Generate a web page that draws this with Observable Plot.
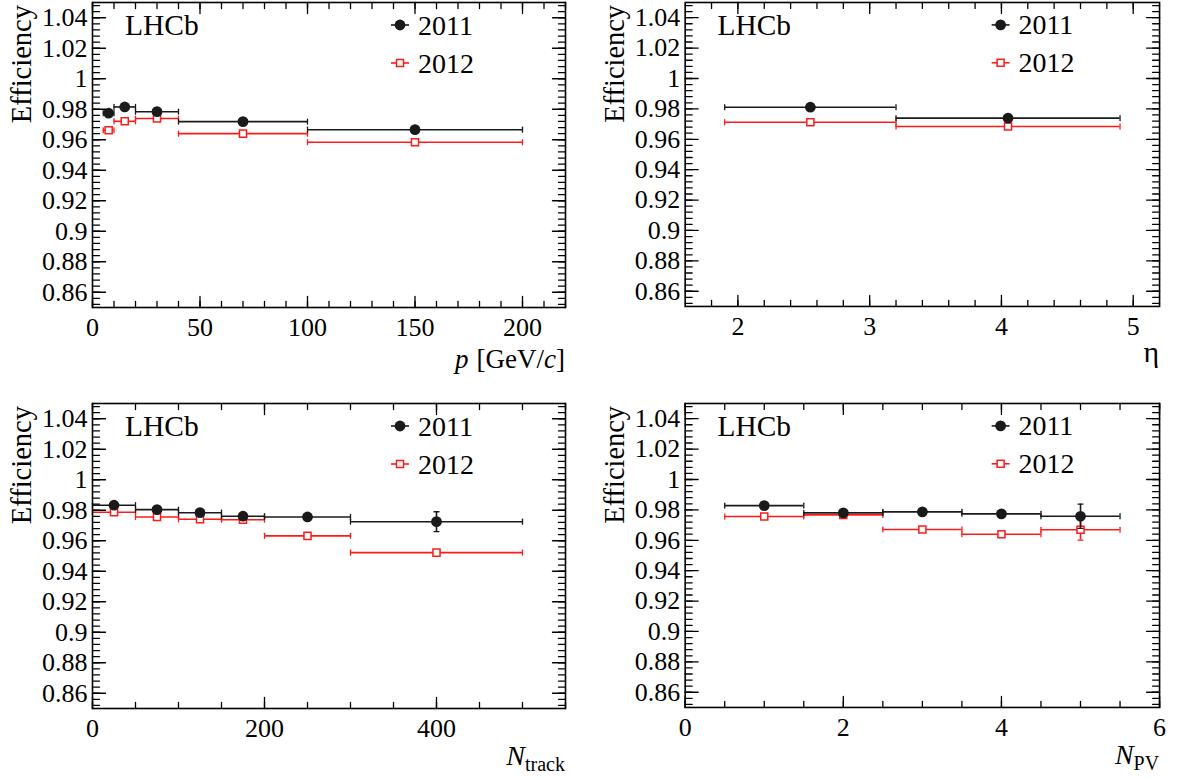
<!DOCTYPE html>
<html><head><meta charset="utf-8">
<script src="https://cdn.jsdelivr.net/npm/d3@7"></script>
<script src="https://cdn.jsdelivr.net/npm/@observablehq/plot@0.6"></script>
<style>
body{margin:0;background:#fff;width:1181px;height:778px;overflow:hidden;position:relative;font-family:"Liberation Serif",serif;}
.panel{position:absolute;}
.panel svg, .panel svg text{font-family:"Liberation Serif",serif !important;}
</style></head><body>
<script>
// ---------- data ----------
const yTicks = [0.86,0.88,0.9,0.92,0.94,0.96,0.98,1,1.02,1.04];
const seriesNames = ["2011","2012"];

const pEdges = [5,10,20,40,100,200];
const pCenters = [7.5,15,30,70,150];
const p2011 = [0.9774,0.9815,0.9784,0.9719,0.9666];
const p2012 = [0.9662,0.9721,0.9739,0.9640,0.9584];
const p2011Err = [0.0025,0.0012,0.0010,0.0008,0.0010];
const p2012Err = [0.0015,0.0010,0.0008,0.0008,0.0010];
const pTicks = [0,50,100,150,200];

const etaEdges = [1.9,3.2,4.9];
const etaCenters = [2.55,4.05];
const eta2011 = [0.9811,0.9739];
const eta2012 = [0.9712,0.9684];
const eta2011Err = [0.0008,0.0008];
const eta2012Err = [0.0008,0.0008];
const etaTicks = [2,3,4,5];

const trackEdges = [0,50,100,150,200,300,500];
const trackCenters = [25,75,125,175,250,400];
const track2011 = [0.9833,0.9804,0.9784,0.9761,0.9756,0.9725];
const track2012 = [0.9787,0.9756,0.9741,0.9738,0.9632,0.9522];
const track2011Err = [0.0010,0.0010,0.0010,0.0010,0.0010,0.0065];
const track2012Err = [0.0008,0.0008,0.0008,0.0008,0.0010,0.0015];
const trackTicks = [0,200,400];

const pvEdges = [0.5,1.5,2.5,3.5,4.5,5.5];
const pvCenters = [1,2,3,4,5];
const pv2011 = [0.9828,0.9780,0.9787,0.9774,0.9758];
const pv2012 = [0.9756,0.9767,0.9671,0.9640,0.9669];
const pv2011Err = [0.0010,0.0010,0.0010,0.0012,0.0080];
const pv2012Err = [0.0010,0.0010,0.0010,0.0012,0.0068];
const pvTicks = [0,2,4,6];

// ---------- helpers ----------
const FONT = "Liberation Serif";
const BLACK = "#1a1a1a", RED = "#ff1a1a";
function rows(edges, centers, vals, errs) {
  return centers.map((c, i) => ({lo: edges[i], hi: edges[i + 1], c, v: vals[i], e: errs[i]}));
}
const lineShape = {draw(ctx, l) { ctx.moveTo(0, 0); ctx.lineTo(0, -l); }};
const yMinor = d3.range(-2, 48).map(i => +(0.86 + i * 0.004).toFixed(4));

function tickMarks(values, axis, len) {
  const o = {stroke: "black", strokeWidth: 1.3, length: len, anchor: "start", shape: lineShape};
  if (axis === "y") return [
    Plot.vector(values, {...o, y: d => d, frameAnchor: "left", rotate: 90}),
    Plot.vector(values, {...o, y: d => d, frameAnchor: "right", rotate: -90})
  ];
  return [
    Plot.vector(values, {...o, x: d => d, frameAnchor: "bottom", rotate: 0}),
    Plot.vector(values, {...o, x: d => d, frameAnchor: "top", rotate: 180})
  ];
}
function seriesMarks(data, color, open) {
  const cap = {stroke: color, strokeWidth: 1.3, length: 5, anchor: "middle", shape: lineShape};
  return [
    Plot.ruleY(data, {y: "v", x1: "lo", x2: "hi", stroke: color, strokeWidth: 1.6}),
    Plot.vector(data, {...cap, x: "lo", y: "v"}),
    Plot.vector(data, {...cap, x: "hi", y: "v"}),
    Plot.ruleX(data, {x: "c", y1: d => d.v - d.e, y2: d => d.v + d.e, stroke: color, strokeWidth: 1.6}),
    Plot.vector(data.filter(d => d.e > 0.003), {...cap, x: "c", y: d => d.v + d.e, rotate: 90}),
    Plot.vector(data.filter(d => d.e > 0.003), {...cap, x: "c", y: d => d.v - d.e, rotate: 90}),
    open
      ? Plot.dot(data, {x: "c", y: "v", symbol: "square", r: 4, stroke: color, strokeWidth: 1.5, fill: "white"})
      : Plot.dot(data, {x: "c", y: "v", r: 5.4, fill: color})
  ];
}

function panel(cfg) {
  const W = 590;
  const svg = Plot.plot({
    width: W, height: cfg.height,
    marginLeft: 92, marginRight: cfg.marginRight, marginTop: 2, marginBottom: cfg.height - 307,
    style: {fontFamily: FONT, fontSize: "26px", color: "black", background: "white", overflow: "visible"},
    x: {domain: cfg.xDomain, label: null},
    y: {domain: [0.85, 1.05], label: null},
    marks: [
      ...seriesMarks(cfg.d2012, RED, true),
      ...seriesMarks(cfg.d2011, BLACK, false),
      ...tickMarks(yTicks, "y", 13),
      ...tickMarks(yMinor, "y", 7),
      ...tickMarks(cfg.xTicks, "x", 11),
      ...tickMarks(cfg.xMinor, "x", 6),
      Plot.axisY({ticks: yTicks, tickSize: 0, tickPadding: 5, tickFormat: d => String(+d.toFixed(2)), fill: "black", fontSize: 26, fontFamily: FONT}),
      Plot.axisX({ticks: cfg.xTicks, tickSize: 0, tickPadding: 10, tickFormat: d => String(d), fill: "black", fontSize: 26, fontFamily: FONT}),
      Plot.frame({stroke: "black", strokeWidth: 1.6})
    ]
  });
  const s = d3.select(svg);
  const fl = 92;
  // LHCb label
  s.append("text").attr("x", fl + 33).attr("y", 35).attr("text-anchor", "start").attr("font-size", 29.5).text("LHCb");
  // y title
  s.append("text").attr("transform", "translate(31,5) rotate(-90)").attr("text-anchor", "end")
    .attr("font-size", 28.5).text("Efficiency");
  // legend
  const lx = fl + cfg.legX;
  const lg = s.append("g");
  [[seriesNames[0], 25, BLACK, false], [seriesNames[1], 63, RED, true]].forEach(([name, y, col, open]) => {
    lg.append("line").attr("x1", lx - 9).attr("x2", lx + 9).attr("y1", y).attr("y2", y)
      .attr("stroke", col).attr("stroke-width", 1.6);
    if (open) lg.append("rect").attr("x", lx - 3.5).attr("y", y - 3.5).attr("width", 7).attr("height", 7)
      .attr("fill", "white").attr("stroke", col).attr("stroke-width", 1.5);
    else lg.append("circle").attr("cx", lx).attr("cy", y).attr("r", 5.4).attr("fill", col);
    lg.append("text").attr("x", lx + 18).attr("y", y + 9.5).attr("text-anchor", "start").attr("font-size", 28).text(name);
  });
  // x title
  cfg.xTitle(s, W - cfg.marginRight);
  s.selectAll("text").attr("font-family", FONT).style("font-family", FONT);
  const div = document.createElement("div");
  div.className = "panel";
  div.style.left = cfg.left + "px";
  div.style.top = cfg.top + "px";
  div.appendChild(svg);
  document.body.appendChild(div);
}

panel({
  left: 0, top: 0, height: 400, marginRight: 25, xDomain: [0, 220], xTicks: pTicks,
  xMinor: d3.range(0, 221, 10), legX: 308,
  d2011: rows(pEdges, pCenters, p2011, p2011Err), d2012: rows(pEdges, pCenters, p2012, p2012Err),
  xTitle: (s, xr) => {
    const t = s.append("text").attr("x", xr).attr("y", 368).attr("text-anchor", "end").attr("font-size", 27);
    t.append("tspan").attr("font-style", "italic").text("p");
    t.append("tspan").attr("dx", 8).text("[GeV/");
    t.append("tspan").attr("font-style", "italic").text("c");
    t.append("tspan").text("]");
  }
});
panel({
  left: 593, top: 0, height: 400, marginRight: 22, xDomain: [1.6, 5.2], xTicks: etaTicks,
  xMinor: d3.range(1, 18).map(i => +(1.6 + i * 0.2).toFixed(2)), legX: 317,
  d2011: rows(etaEdges, etaCenters, eta2011, eta2011Err), d2012: rows(etaEdges, etaCenters, eta2012, eta2012Err),
  xTitle: (s, xr) => {
    s.append("text").attr("x", xr).attr("y", 363).attr("text-anchor", "end").attr("font-size", 30).text("η");
  }
});
panel({
  left: 0, top: 401, height: 377, marginRight: 25, xDomain: [0, 550], xTicks: trackTicks,
  xMinor: d3.range(0, 551, 50), legX: 308,
  d2011: rows(trackEdges, trackCenters, track2011, track2011Err), d2012: rows(trackEdges, trackCenters, track2012, track2012Err),
  xTitle: (s, xr) => {
    const t = s.append("text").attr("x", xr).attr("y", 364).attr("text-anchor", "end").attr("font-size", 28);
    t.append("tspan").attr("font-style", "italic").text("N");
    t.append("tspan").attr("font-size", 20).attr("dy", 6).text("track");
  }
});
panel({
  left: 593, top: 401, height: 377, marginRight: 22, xDomain: [0, 6], xTicks: pvTicks,
  xMinor: d3.range(0, 13).map(i => i * 0.5), legX: 317,
  d2011: rows(pvEdges, pvCenters, pv2011, pv2011Err), d2012: rows(pvEdges, pvCenters, pv2012, pv2012Err),
  xTitle: (s, xr) => {
    const t = s.append("text").attr("x", xr).attr("y", 364).attr("text-anchor", "end").attr("font-size", 28);
    t.append("tspan").attr("font-style", "italic").text("N");
    t.append("tspan").attr("font-size", 20).attr("dy", 6).text("PV");
  }
});
</script>
</body></html>
